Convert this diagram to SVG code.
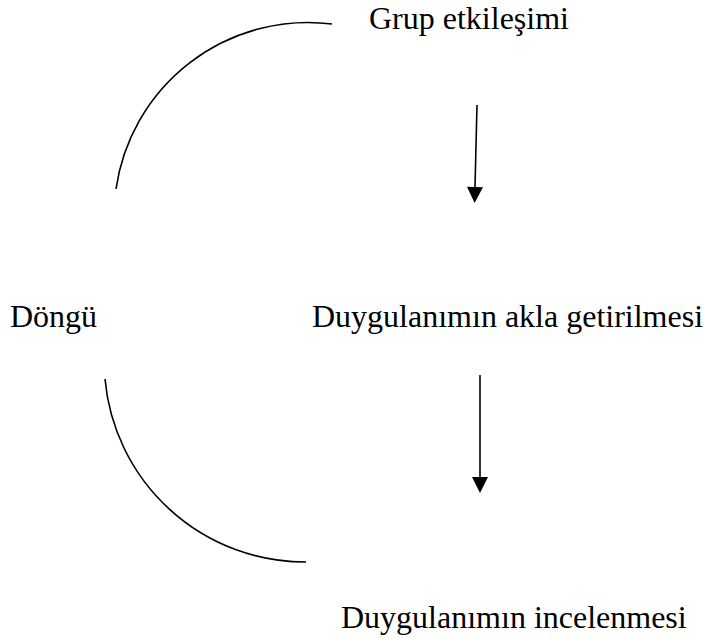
<svg xmlns="http://www.w3.org/2000/svg" width="704" height="639" viewBox="0 0 704 639">
<defs>
<style>
.lbl{font-family:"Liberation Serif","Times New Roman",serif;font-size:32px;fill:#000}
.arc{fill:none;stroke:#000;stroke-width:1.6}
.arr{fill:none;stroke:#000;stroke-width:1.6}
</style>
<marker id="ah" markerUnits="userSpaceOnUse" markerWidth="16" markerHeight="16" viewBox="0 0 16 16" refX="0" refY="8" orient="auto" overflow="visible">
<path d="M0,0 L16,8 L0,16 z" fill="#000"/>
</marker>
</defs>
<rect width="704" height="639" fill="#fff"/>
<g id="node-grup"><text class="lbl" x="369" y="29">Grup etkileşimi</text></g>
<g id="node-dongu"><text class="lbl" x="10" y="327">Döngü</text></g>
<g id="node-akla"><text class="lbl" x="312" y="327">Duygulanımın akla getirilmesi</text></g>
<g id="node-incelenmesi"><text class="lbl" x="341" y="628">Duygulanımın incelenmesi</text></g>
<g id="connectors">
<path class="arc" d="M116,189 A194,194 0 0,1 332,24"/>
<path class="arc" d="M105,379 A201,201 0 0,0 306,562"/>
<path class="arr" d="M477,105 L475,187" marker-end="url(#ah)"/>
<path class="arr" d="M480,375 L480,477" marker-end="url(#ah)"/>
</g>
</svg>
